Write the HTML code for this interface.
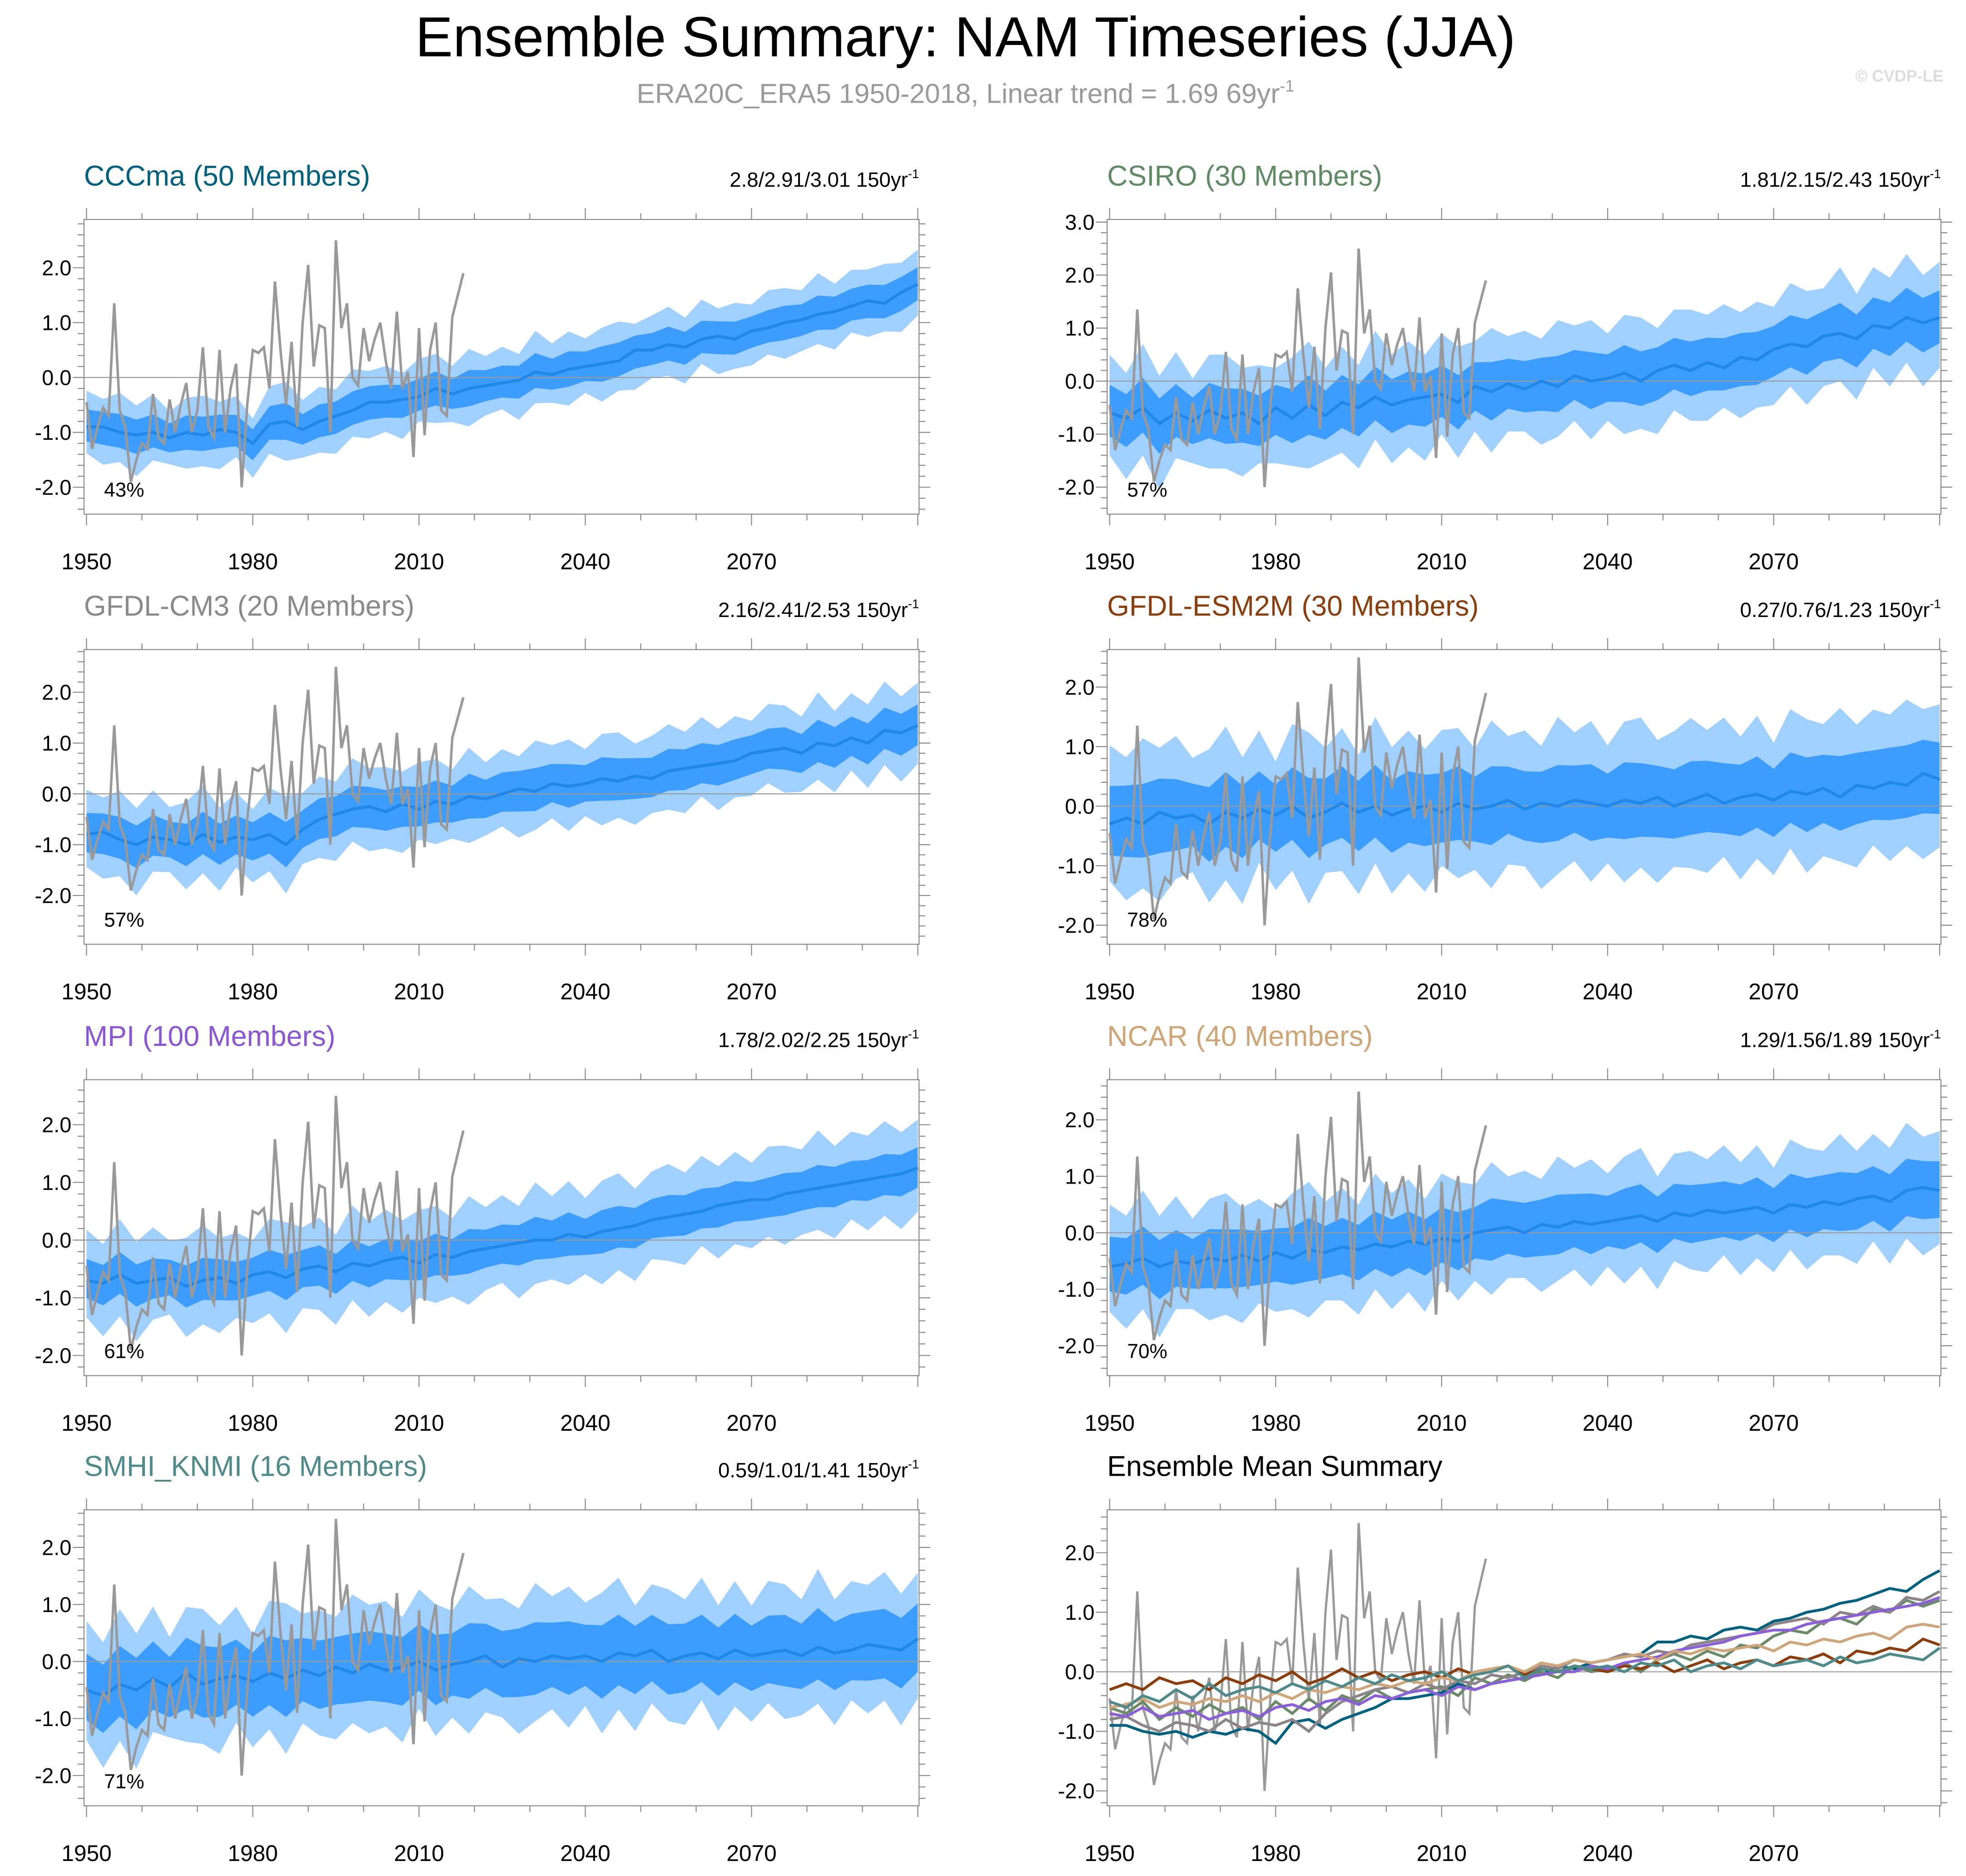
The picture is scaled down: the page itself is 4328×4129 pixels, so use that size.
<!DOCTYPE html>
<html><head><meta charset="utf-8"><title>Ensemble Summary: NAM Timeseries (JJA)</title>
<style>
html,body{margin:0;padding:0;background:#fff;}
svg{display:block;font-family:"Liberation Sans",sans-serif;}
</style></head>
<body>
<svg id="chart" width="4328" height="4129" viewBox="0 0 1568 1496" preserveAspectRatio="none" xmlns="http://www.w3.org/2000/svg">
<text x="770" y="45" font-size="45" text-anchor="middle" fill="#000">Ensemble Summary: NAM Timeseries (JJA)</text>
<text x="770" y="82" font-size="22" text-anchor="middle" fill="#9a9a9a">ERA20C_ERA5 1950-2018, Linear trend = 1.69 69yr<tspan dy="-9" font-size="13">-1</tspan></text>
<text x="1550" y="65" font-size="13" font-weight="bold" text-anchor="end" fill="#dddddd">© CVDP-LE</text>
<g id="panels"></g>
</svg>
<script>
// Observed series (ERA20C_ERA5) 1950-2018
const obsValues = [-0.45,-1.3,-0.9,-0.55,-0.7,1.35,-0.6,-0.9,-1.9,-1.5,-1.2,-1.3,-0.3,-1.1,-1.2,-0.4,-1.0,-0.5,-0.1,-1.0,-0.6,0.55,-0.9,-1.1,0.5,-1.0,-0.2,0.25,-2.0,-0.5,0.5,0.45,0.55,-0.2,1.75,0.5,-0.5,0.65,-0.9,1.0,2.05,0.2,0.95,0.9,-1.0,2.5,0.9,1.35,0.0,-0.15,0.9,0.3,0.7,1.0,0.3,-0.2,1.2,-0.2,0.1,-1.45,0.9,-1.05,0.5,1.0,-0.6,-0.7,1.1,1.5,1.9];
const obsStartYear = 1950;
// Ensemble mean years (every 3 years)
const meanYears = [1950,1953,1956,1959,1962,1965,1968,1971,1974,1977,1980,1983,1986,1989,1992,1995,1998,2001,2004,2007,2010,2013,2016,2019,2022,2025,2028,2031,2034,2037,2040,2043,2046,2049,2052,2055,2058,2061,2064,2067,2070,2073,2076,2079,2082,2085,2088,2091,2094,2097,2100];
const meanCCCma = [-0.9,-0.9,-1.0,-1.05,-1.0,-1.1,-1.0,-1.05,-0.95,-1.0,-1.2,-0.85,-0.8,-0.95,-0.8,-0.7,-0.6,-0.45,-0.45,-0.4,-0.35,-0.2,-0.3,-0.2,-0.15,-0.1,-0.05,0.1,0.05,0.15,0.2,0.25,0.3,0.5,0.5,0.6,0.55,0.7,0.75,0.7,0.85,0.9,1.0,1.05,1.15,1.2,1.3,1.4,1.35,1.55,1.7];
const meanCSIRO = [-0.6,-0.7,-0.5,-0.8,-0.6,-0.75,-0.55,-0.7,-0.6,-0.8,-0.5,-0.7,-0.45,-0.65,-0.4,-0.5,-0.3,-0.45,-0.35,-0.3,-0.25,-0.4,-0.1,-0.2,-0.05,-0.15,0.0,-0.1,0.1,0.0,0.05,0.15,0.0,0.2,0.3,0.2,0.35,0.25,0.45,0.4,0.6,0.7,0.65,0.85,0.9,0.8,1.05,1.0,1.2,1.1,1.2];
const meanGFDLCM3 = [-0.8,-0.75,-0.9,-1.0,-0.85,-0.9,-1.0,-0.8,-0.95,-0.85,-0.9,-0.8,-1.0,-0.7,-0.5,-0.4,-0.3,-0.25,-0.35,-0.2,-0.3,-0.15,-0.2,-0.05,-0.1,0.0,0.1,0.05,0.2,0.15,0.2,0.3,0.25,0.35,0.3,0.45,0.5,0.55,0.6,0.65,0.8,0.85,0.9,0.8,1.0,0.95,1.1,1.0,1.25,1.2,1.35];
const meanESM2M = [-0.3,-0.2,-0.3,-0.1,-0.2,-0.15,-0.3,-0.1,-0.2,-0.05,-0.15,0.0,-0.2,-0.1,0.05,-0.1,0.0,-0.15,-0.05,0.0,-0.1,0.05,-0.05,0.0,0.1,-0.05,0.05,0.0,0.1,0.05,0.0,0.1,0.05,0.15,0.0,0.1,0.2,0.05,0.15,0.2,0.1,0.25,0.2,0.3,0.15,0.35,0.3,0.4,0.35,0.55,0.45];
const meanMPI = [-0.7,-0.75,-0.6,-0.75,-0.7,-0.65,-0.8,-0.7,-0.65,-0.75,-0.6,-0.55,-0.65,-0.5,-0.45,-0.55,-0.4,-0.45,-0.35,-0.3,-0.4,-0.25,-0.3,-0.2,-0.15,-0.1,-0.05,0.0,0.0,0.1,0.05,0.15,0.2,0.25,0.35,0.4,0.45,0.5,0.6,0.65,0.7,0.7,0.8,0.85,0.9,0.95,1.0,1.05,1.1,1.15,1.25];
const meanNCAR = [-0.6,-0.55,-0.45,-0.6,-0.5,-0.55,-0.45,-0.5,-0.4,-0.5,-0.35,-0.45,-0.3,-0.35,-0.25,-0.3,-0.2,-0.25,-0.15,-0.2,-0.1,-0.15,0.0,0.05,0.1,0.0,0.15,0.1,0.2,0.15,0.2,0.25,0.3,0.2,0.35,0.3,0.4,0.35,0.4,0.45,0.35,0.5,0.45,0.55,0.5,0.6,0.65,0.55,0.75,0.8,0.75];
const meanSMHI = [-0.5,-0.6,-0.4,-0.5,-0.3,-0.45,-0.2,-0.4,-0.3,-0.25,-0.35,-0.2,-0.3,-0.15,-0.25,-0.1,-0.2,-0.05,-0.15,-0.1,0.0,-0.15,-0.05,0.0,0.1,-0.1,0.05,0.0,0.1,0.05,0.1,0.0,0.15,0.1,0.2,0.0,0.1,0.15,0.05,0.2,0.1,0.15,0.2,0.1,0.25,0.15,0.2,0.3,0.25,0.2,0.4];
// Ensemble spread half-widths (inner = 25-75%, outer = 10-90%)
const innerSpread = [0.3,0.5,0.4,0.6,0.35,0.5,0.6];
const outerSpread = [0.6,1.0,0.8,1.2,0.8,1.0,1.1];
// Year-to-year wiggle of band edges
const bandWiggle = [0.1,-0.15,0.2,-0.1,0.15,-0.2,0.05,0.2,-0.15,0.1,-0.25,0.15,0.2,-0.1,0.05,-0.2,0.25,-0.05,0.1,-0.2,0.15,0.05,-0.15,0.2,-0.1,0.1,-0.2,0.25,-0.05,0.15,-0.15,0.1,0.2,-0.2,0.05,0.15,-0.1,0.2,-0.15,0.1,-0.2,0.15,0.05,-0.1,0.25,-0.15,0.1,-0.05,0.2,-0.1,0.05];
const modelNames = ["CCCma (50 Members)","CSIRO (30 Members)","GFDL-CM3 (20 Members)","GFDL-ESM2M (30 Members)","MPI (100 Members)","NCAR (40 Members)","SMHI_KNMI (16 Members)"];
const trendLabels = ["2.8/2.91/3.01 150yr","1.81/2.15/2.43 150yr","2.16/2.41/2.53 150yr","0.27/0.76/1.23 150yr","1.78/2.02/2.25 150yr","1.29/1.56/1.89 150yr","0.59/1.01/1.41 150yr"];
const pctLabels = ["43%","57%","57%","78%","61%","70%","71%"];
const yTickLabels = ["-2.0","-1.0","0.0","1.0","2.0","3.0"];
const yTickValues = [-2,-1,0,1,2,3];
const xTickYears = [1950,1980,2010,2040,2070];

const means = [meanCCCma,meanCSIRO,meanGFDLCM3,meanESM2M,meanMPI,meanNCAR,meanSMHI];
const modelColors = ["#00607f","#5f8a63","#8a8a8a","#8b3d0b","#8957d6","#d0a576","#4f8a8a"];
const sumColors = ["#00607f","#6a8a6a","#8c8489","#8b3d0b","#8a5fd8","#cfa679","#4f8a8a"];
const panels = [
 {x0:67,x1:733,y0:175,y1:410,ymin:-2.49,ymax:2.88,showYmax:2},
 {x0:883,x1:1548,y0:175,y1:410,ymin:-2.51,ymax:3.05,showYmax:3},
 {x0:67,x1:733,y0:518,y1:753,ymin:-2.96,ymax:2.84,showYmax:2},
 {x0:883,x1:1548,y0:518,y1:753,ymin:-2.32,ymax:2.63,showYmax:2},
 {x0:67,x1:733,y0:861,y1:1097,ymin:-2.35,ymax:2.78,showYmax:2},
 {x0:883,x1:1548,y0:861,y1:1097,ymin:-2.53,ymax:2.71,showYmax:2},
 {x0:67,x1:733,y0:1204,y1:1440,ymin:-2.53,ymax:2.66,showYmax:2},
 {x0:883,x1:1548,y0:1204,y1:1440,ymin:-2.25,ymax:2.72,showYmax:2}
];
const NS="http://www.w3.org/2000/svg";
const root=document.getElementById('panels');
function mk(tag,attrs,parent){const e=document.createElementNS(NS,tag);for(const k in attrs)e.setAttribute(k,attrs[k]);(parent||root).appendChild(e);return e;}

panels.forEach((p,i)=>{
  const g=mk('g',{});
  
  
  const xs=y=>p.x0+2+(y-1950)*(p.x1-p.x0-3)/150;
  const ys=v=>p.y1-(v-p.ymin)*(p.y1-p.y0)/(p.ymax-p.ymin);
  if(i<7){
    const m=means[i];
    [[outerSpread[i],'#a0d0ff','outer-spread-band',1.0],[innerSpread[i],'#3c9dff','inner-spread-band',0.6]].forEach(([w,c,n,f])=>{
      let pts=meanYears.map((yr,k)=>xs(yr)+','+ys(m[k]+w+bandWiggle[k]*f*w));
      for(let k=meanYears.length-1;k>=0;k--)pts.push(xs(meanYears[k])+','+ys(m[k]-w+bandWiggle[(k+7)%bandWiggle.length]*f*w));
      const poly=mk('polygon',{points:pts.join(' '),fill:c},g);
      
      
    });
  }
  const zl=mk('line',{x1:p.x0,x2:p.x1,y1:ys(0),y2:ys(0),stroke:'#999','stroke-width':0.8},g);
  
  
  const obsPts=obsValues.map((v,k)=>xs(obsStartYear+k)+','+ys(v)).join(' ');
  if(i<7){
    const ml=mk('polyline',{points:meanYears.map((yr,k)=>xs(yr)+','+ys(means[i][k])).join(' '),fill:'none',stroke:'#2288e8','stroke-width':2.4},g);
    
    
    const ol=mk('polyline',{points:obsPts,fill:'none',stroke:'#999','stroke-width':2},g);
    
    
  } else {
    const ol=mk('polyline',{points:obsPts,fill:'none',stroke:'#999','stroke-width':1.8},g);
    
    
    means.forEach((m,j)=>{
      const l=mk('polyline',{points:meanYears.map((yr,k)=>xs(yr)+','+ys(m[k])).join(' '),fill:'none',stroke:sumColors[j],'stroke-width':2.2},g);
      
      
    });
  }
  const fr=mk('rect',{x:p.x0,y:p.y0,width:p.x1-p.x0,height:p.y1-p.y0,fill:'none',stroke:'#888','stroke-width':0.8},g);
  
  
  for(let yr=1950;yr<=2100;yr+=10){
    const major=(yr-1950)%30===0, L=major?9:5, x=xs(yr);
    mk('line',{x1:x,x2:x,y1:p.y1,y2:p.y1+L,stroke:'#888','stroke-width':0.8},g);
    mk('line',{x1:x,x2:x,y1:p.y0,y2:p.y0-L,stroke:'#888','stroke-width':0.8},g);
  }
  xTickYears.forEach(yr=>{
    const t=mk('text',{x:xs(yr),y:p.y1+44,'font-size':18,'text-anchor':'middle',fill:'#000'},g);
    t.textContent=yr;
    
    
  });
  for(let v=Math.ceil(p.ymin*5)/5;v<=p.ymax+1e-6;v+=0.2){
    const vv=Math.round(v*5)/5, major=Math.abs(vv-Math.round(vv))<1e-6, L=major?9:5, y=ys(vv);
    mk('line',{x1:p.x0,x2:p.x0-L,y1:y,y2:y,stroke:'#888','stroke-width':0.8},g);
    mk('line',{x1:p.x1,x2:p.x1+L,y1:y,y2:y,stroke:'#888','stroke-width':0.8},g);
  }
  yTickValues.forEach((v,k)=>{
    if(v<p.ymin||v>p.showYmax)return;
    const t=mk('text',{x:p.x0-10,y:ys(v)+6,'font-size':17,'text-anchor':'end',fill:'#000'},g);
    t.textContent=yTickLabels[k];
    
    
  });
  const tt=mk('text',{x:p.x0,y:p.y0-27,'font-size':22.7,fill:i<7?modelColors[i]:'#000'},g);
  tt.textContent=i<7?modelNames[i]:'Ensemble Mean Summary';
  
  
  if(i<7){
    const tr=mk('text',{x:p.x1,y:p.y0-26,'font-size':16.5,'text-anchor':'end',fill:'#000'},g);
    tr.textContent=trendLabels[i];
    const sup=mk('tspan',{dy:-7,'font-size':10},tr);
    sup.textContent='-1';
    
    
    const pc=mk('text',{x:p.x0+16,y:p.y1-14,'font-size':16,fill:'#000'},g);
    pc.textContent=pctLabels[i];
    
    
  }
});
</script>
</body></html>
